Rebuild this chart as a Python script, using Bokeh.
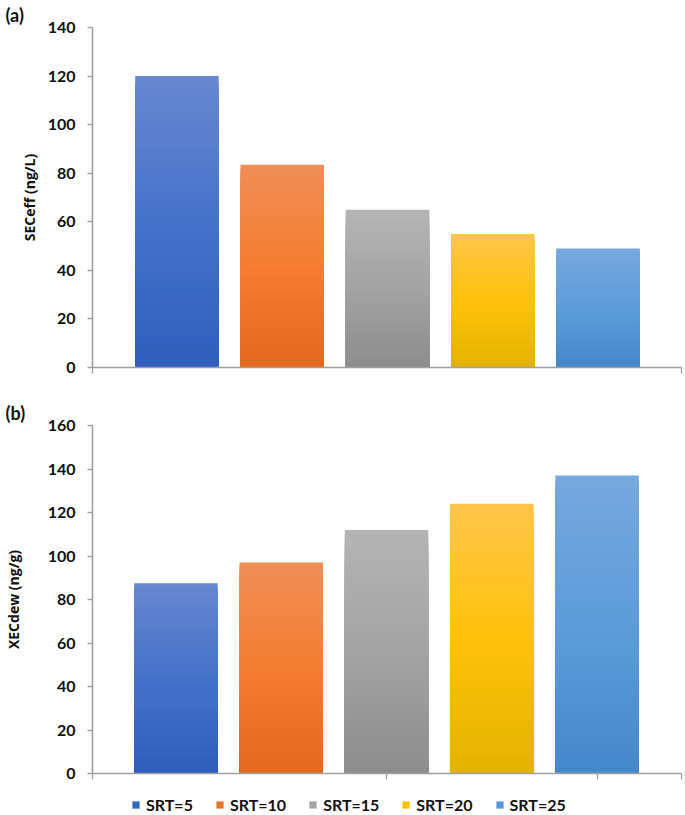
from bokeh.plotting import figure
from bokeh.layouts import column
from bokeh.models import Range1d, FixedTicker, Legend, LegendItem, Title
from bokeh.embed import file_html
from bokeh.resources import INLINE

# ---- data ----
categories = ["SRT=5", "SRT=10", "SRT=15", "SRT=20", "SRT=25"]
sec_eff = [120, 83.5, 65, 55, 49]          # SECeff (ng/L)
xec_dew = [87.5, 97, 112, 124, 137]        # XECdew (ng/g)
y1_ticks = [0, 20, 40, 60, 80, 100, 120, 140]
y2_ticks = [0, 20, 40, 60, 80, 100, 120, 140, 160]

# ---- styles ----
top_colors = ["#6787CF", "#F08D55", "#B4B4B4", "#FFC548", "#76A8DD"]
mid_colors = ["#4472CA", "#F47D30", "#A3A3A3", "#FFC20A", "#5C9CDA"]
bot_colors = ["#2E5DBD", "#E3681B", "#8C8C8C", "#E2B200", "#4388CB"]
legend_colors = ["#3563C3", "#EC7428", "#A5A5A5", "#FFC000", "#5098D8"]

AX = "#A0A0A0"
TXT = "#111111"
PX_PER_UNIT = 106.0
BAR_PX = 84.0
W = 685
B_LEFT = 88
B_RIGHT = 4


def hex2rgb(h):
    h = h.lstrip("#")
    return tuple(int(h[i:i + 2], 16) for i in (0, 2, 4))


def mix(a, b, t):
    ra, rb = hex2rgb(a), hex2rgb(b)
    return "#%02x%02x%02x" % tuple(int(round(ra[i] + (rb[i] - ra[i]) * t)) for i in range(3))


def grad(i, f):  # f: 0 = top of bar, 1 = bottom
    if f < 0.5:
        return mix(top_colors[i], mid_colors[i], f / 0.5)
    return mix(mid_colors[i], bot_colors[i], (f - 0.5) / 0.5)


def make_fig(values, ymax, yticks, ylabel, tag, height, b_top, b_bottom,
             first_center_px, xticks_inner, label_standoff):
    frame_w = W - B_LEFT - B_RIGHT
    x_start = 1 - (first_center_px - B_LEFT) / PX_PER_UNIT
    x_end = x_start + frame_w / PX_PER_UNIT
    p = figure(width=W, height=height, output_backend="svg", toolbar_location=None,
               x_range=Range1d(x_start, x_end), y_range=Range1d(0, ymax),
               min_border_left=B_LEFT, min_border_right=B_RIGHT,
               min_border_top=b_top, min_border_bottom=b_bottom)
    p.outline_line_color = None
    p.grid.visible = False
    p.background_fill_color = "white"

    # gradient bars: overlapping slices from the bar value, tallest drawn first
    N = 50
    xs, tops, cols = [], [], []
    for i, v in enumerate(values):
        for k in range(N, 0, -1):
            xs.append(i + 1)
            tops.append(v * k / N)
            cols.append(grad(i, 1 - k / N))
    p.vbar(x=xs, bottom=0, top=tops, width=BAR_PX / PX_PER_UNIT,
           fill_color=cols, line_color=None)

    ya = p.yaxis[0]
    ya.ticker = FixedTicker(ticks=yticks)
    ya.axis_line_color = AX
    ya.axis_line_width = 1.6
    ya.major_tick_line_color = AX
    ya.major_tick_line_width = 1.3
    ya.major_tick_out = 5
    ya.major_tick_in = 0
    ya.minor_tick_line_color = None
    ya.major_label_standoff = 12
    ya.major_label_text_font = "Lato"
    ya.major_label_text_font_style = "bold"
    ya.major_label_text_font_size = "16px"
    ya.major_label_text_color = TXT
    ya.axis_label = ylabel
    ya.axis_label_text_font = "Open Sans"
    ya.axis_label_text_font_style = "bold"
    ya.axis_label_text_font_size = "14px"
    ya.axis_label_text_color = TXT
    ya.axis_label_standoff = label_standoff

    xa = p.xaxis[0]
    ticks = [x_start + 0.001] + xticks_inner + [x_end - 0.001]
    xa.ticker = FixedTicker(ticks=ticks)
    xa.major_label_overrides = {t: "" for t in ticks}
    xa.major_label_text_font_size = "1px"
    xa.major_label_standoff = 0
    xa.axis_line_color = AX
    xa.axis_line_width = 1.6
    xa.major_tick_line_color = AX
    xa.major_tick_line_width = 1.3
    xa.major_tick_out = 6
    xa.major_tick_in = 0
    xa.minor_tick_line_color = None

    p.add_layout(Title(text=tag, align="left", offset=-B_LEFT + 1, standoff=3,
                       text_font="Lato", text_font_style="bold",
                       text_font_size="18px", text_color=TXT), "above")
    return p


p1 = make_fig(sec_eff, 140, y1_ticks, "SECeff (ng/L)", "(a)", 382, 26, 15,
              173, [], 6)
p2 = make_fig(xec_dew, 160, y2_ticks, "XECdew (ng/g)", "(b)", 403, 43, 12,
              172, [3, 5], 22)

# legend strip below the charts (its frame is aligned with the charts' frames)
LEG_H = 30
p3 = figure(width=W, height=LEG_H, output_backend="svg", toolbar_location=None,
            x_range=Range1d(0, 1), y_range=Range1d(0, 1),
            x_axis_location=None, y_axis_location=None,
            min_border_left=B_LEFT, min_border_right=B_RIGHT,
            min_border_top=0, min_border_bottom=0)
p3.grid.visible = False
p3.outline_line_color = None
items = []
for c, col in zip(categories, legend_colors):
    # zero-size swatch renderer, only used to draw the legend key
    r = p3.quad(left=[-1], right=[-1], top=[-1], bottom=[-1], fill_color=col, line_color=None)
    items.append(LegendItem(label=c, renderers=[r]))
lg = Legend(items=items, orientation="horizontal", location=(127 - B_LEFT, 1),
            border_line_color=None, background_fill_alpha=0,
            label_text_font="Lato", label_text_font_style="bold",
            label_text_font_size="16px", label_text_color=TXT,
            glyph_width=9, glyph_height=9, label_standoff=6, spacing=22,
            padding=0, margin=0)
p3.add_layout(lg, "center")

layout = column(p1, p2, p3, spacing=0)
open("out.html", "w").write(file_html(layout, INLINE))
